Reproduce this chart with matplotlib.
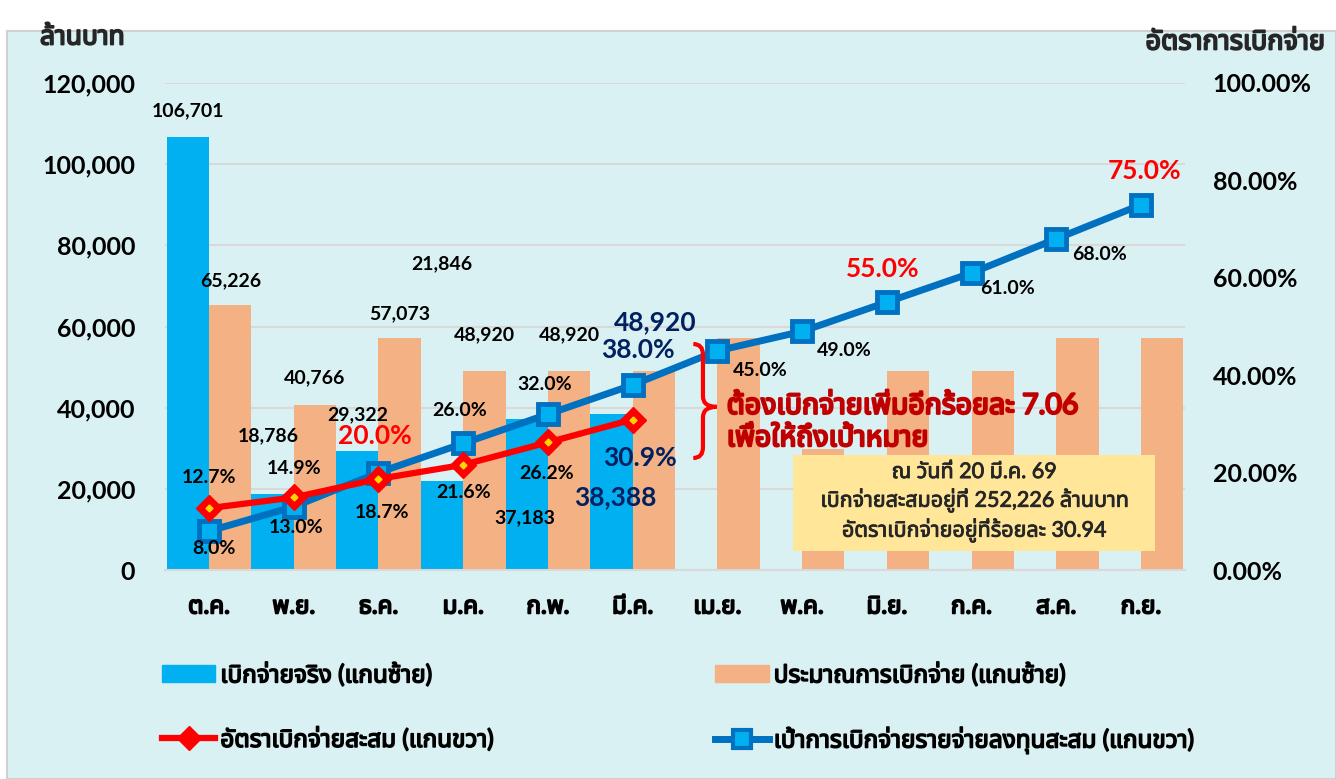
import matplotlib
matplotlib.use("Agg")
from matplotlib import pyplot as plt
from matplotlib import font_manager as fm
from matplotlib import patheffects as pe
from matplotlib.ft2font import FT2Font
from matplotlib.patches import Rectangle, Patch, PathPatch
from matplotlib.lines import Line2D
from matplotlib.path import Path
from matplotlib.ticker import FuncFormatter
import numpy as np

# find a font that has Thai glyphs
thai_fonts = []
for f in fm.fontManager.ttflist:
    try:
        cmap = FT2Font(f.fname).get_charmap()
    except Exception:
        continue
    if 0x0E01 in cmap and f.name not in thai_fonts:
        thai_fonts.append(f.name)
pref = ["Noto Sans Thai", "Noto Sans Thai UI", "Noto Sans Thai Looped", "Loma", "Garuda", "Waree", "Sawasdee"]
thai = next((p for p in pref if p in thai_fonts), thai_fonts[0] if thai_fonts else "DejaVu Sans")
FONTS = ["Lato", thai, "DejaVu Sans"]
plt.rcParams["font.family"] = FONTS

# data
months = ["ต.ค.", "พ.ย.", "ธ.ค.", "ม.ค.", "ก.พ.", "มี.ค.", "เม.ย.", "พ.ค.", "มิ.ย.", "ก.ค.", "ส.ค.", "ก.ย."]
actual = [106701, 18786, 29322, 21846, 37183, 38388]
budget = [65226, 40766, 57073, 48920, 48920, 48920, 57073, 29800, 48920, 48920, 57073, 57073]
target_rate = [8.0, 13.0, 20.0, 26.0, 32.0, 38.0, 45.0, 49.0, 55.0, 61.0, 68.0, 75.0]
actual_rate = [12.7, 14.9, 18.7, 21.6, 26.2, 30.9]
note_lines = ["ณ วันที่ 20 มี.ค. 69", "เบิกจ่ายสะสมอยู่ที่ 252,226 ล้านบาท", "อัตราเบิกจ่ายอยู่ที่ร้อยละ 30.94"]
gap_text = "ต้องเบิกจ่ายเพิ่มอีกร้อยละ 7.06\nเพื่อให้ถึงเป้าหมาย"

BLUE = "#00B0F0"
ORANGE = "#F4B183"
LINEBLUE = "#0070C0"
RED = "#FF0000"
NAVY = "#002060"


def bold(c, w=1.1):
    # thai font has no bold face, thicken with a stroke
    return [pe.withStroke(linewidth=w, foreground=c)]


# label offsets in pixels (dx, dy)
actual_off = [(0, 26), (-4, 58), (0, 36), (0, 218), (-2, -99), (4, -83)]
budget_off = [(0, 25), (0, 27), (0, 25), (0, 37), (0, 37), (1, 49)]
target_off = [(5, -17), (2, -21), (-4, 37), (-4, 33), (-3, 30), (5, 35),
              (43, -20), (42, -19), (-4, 33), (36, -16), (43, -16), (4, 34)]
target_col = ["black", "black", RED, "black", "black", NAVY,
              "black", "black", RED, "black", "black", RED]
rate_off = [(0, 31), (0, 29), (4, -34), (0, -28), (-1, -31), (7, -38)]

W, H = 1336, 779
fig = plt.figure(figsize=(W / 100, H / 100), dpi=100)
fig.patch.set_facecolor("white")
fig.patches.append(Rectangle((7 / W, 0), 1 - 7 / W, (H - 31) / H, transform=fig.transFigure,
                             fc="#DAF1F4", ec="#D0D0D0", lw=1.5, zorder=-10))

ax = fig.add_axes([165 / W, (H - 570) / H, (1185 - 165) / W, (570 - 83) / H])
ax.set_facecolor("none")
ax2 = ax.twinx()

x = np.arange(len(months))
xa = np.arange(len(actual))
ax.bar(xa - 0.25, actual, width=0.5, color=BLUE, zorder=2)
ax.bar(x + 0.25, budget, width=0.5, color=ORANGE, zorder=2)

ax.set_ylim(0, 120000)
ax.set_xlim(-0.52, 11.52)
ax.set_yticks(np.arange(0, 120001, 20000))
ax.yaxis.set_major_formatter(FuncFormatter(lambda v, p: f"{v:,.0f}"))
ax.grid(axis="y", color="#D9D9D9", lw=1.5, zorder=0)
ax.set_axisbelow(True)
ax.set_xticks(x)
ax.set_xticklabels(months)
for s in ["top", "left", "right"]:
    ax.spines[s].set_visible(False)
    ax2.spines[s].set_visible(False)
ax.spines["bottom"].set_color("#D9D9D9")
ax.spines["bottom"].set_linewidth(1.5)
ax2.spines["bottom"].set_visible(False)
ax.tick_params(axis="y", length=0, labelsize=18, pad=21.5)
ax.tick_params(axis="x", length=0, labelsize=17.5, pad=19)
for t in ax.get_yticklabels():
    t.set_fontweight("bold")
for t in ax.get_xticklabels():
    t.set_path_effects(bold("black", 1.3))

ax2.set_ylim(0, 100)
ax2.set_yticks(np.arange(0, 101, 20))
ax2.yaxis.set_major_formatter(FuncFormatter(lambda v, p: f"{v:.2f}%"))
ax2.tick_params(axis="y", length=0, labelsize=18, pad=20)
for t in ax2.get_yticklabels():
    t.set_fontweight("bold")

ax2.plot(x, target_rate, color=LINEBLUE, lw=5, marker="s", ms=15, mfc=BLUE, mec=LINEBLUE, mew=3.5, zorder=5)
ax2.plot(xa, actual_rate, color=RED, lw=4.5, marker="D", ms=13, mfc=RED, mec=RED, zorder=6)
ax2.plot(xa, actual_rate, ls="none", marker="D", ms=3.5, mfc="#FFD700", mec="#FFD700", zorder=7)

# bar labels
for i, v in enumerate(actual):
    big = i == len(actual) - 1
    ax2.annotate(f"{v:,}", xy=(i - 0.25, v / 1200), xytext=actual_off[i], textcoords="offset pixels",
                 ha="center", va="center", fontsize=19 if big else 14,
                 color=NAVY if big else "black", fontweight="bold", zorder=9)
for i, v in enumerate(budget[:len(actual)]):
    big = i == len(actual) - 1
    ax2.annotate(f"{v:,}", xy=(i + 0.25, v / 1200), xytext=budget_off[i], textcoords="offset pixels",
                 ha="center", va="center", fontsize=19 if big else 14,
                 color=NAVY if big else "black", fontweight="bold", zorder=9)

# line labels
for i, v in enumerate(target_rate):
    c = target_col[i]
    big = c != "black"
    ax2.annotate(f"{v:.1f}%", xy=(i, v), xytext=target_off[i], textcoords="offset pixels",
                 ha="center", va="center", fontsize=19 if big else 14, color=c,
                 fontweight="bold", zorder=9)
for i, v in enumerate(actual_rate):
    big = i == len(actual_rate) - 1
    ax2.annotate(f"{v:.1f}%", xy=(i, v), xytext=rate_off[i], textcoords="offset pixels",
                 ha="center", va="center", fontsize=19 if big else 14,
                 color=NAVY if big else "black", fontweight="bold", zorder=9)

# brace showing the gap
x0, x1, x2 = 5.716, 5.83, 5.99
yt, ym, yb = 46.4, 33.5, 23.0
r = 2.2
verts = [(x0, yt), (x1, yt), (x1, yt - r),
         (x1, ym + r), (x1, ym), (x2, ym),
         (x1, ym), (x1, ym - r),
         (x1, yb + r), (x1, yb), (x0, yb)]
codes = [Path.MOVETO, Path.CURVE3, Path.CURVE3,
         Path.LINETO, Path.CURVE3, Path.CURVE3,
         Path.CURVE3, Path.CURVE3,
         Path.LINETO, Path.CURVE3, Path.CURVE3]
ax2.add_patch(PathPatch(Path(verts, codes), fc="none", ec=RED, lw=3, zorder=8, clip_on=False))
ax2.text(6.11, 30.4, gap_text, ha="left", va="center", fontsize=20.5, color="#C00000",
         linespacing=1.3, zorder=9, path_effects=bold("#C00000", 1.6))

# note box
fig.patches.append(Rectangle((793 / W, (H - 551) / H), (1155 - 793) / W, (551 - 455) / H,
                             transform=fig.transFigure, fc="#FFE699", ec="none", zorder=3))
fig.text(974 / W, (H - 502) / H, "\n".join(note_lines), ha="center", va="center", fontsize=15.5,
         color="#262626", linespacing=1.3, zorder=10, path_effects=bold("#262626", 0.6))

# axis titles
fig.text(40 / W, (H - 37) / H, "ล้านบาท", ha="left", va="center", fontsize=19,
         path_effects=bold("#262626", 1.3), color="#262626")
fig.text(1325 / W, (H - 42) / H, "อัตราการเบิกจ่าย", ha="right", va="center", fontsize=19.5,
         path_effects=bold("#262626", 1.3), color="#262626")

handles = [Patch(color=BLUE),
           Line2D([], [], color=RED, lw=4.5, marker="D", ms=12, mfc=RED, mec=RED),
           Patch(color=ORANGE),
           Line2D([], [], color=LINEBLUE, lw=5, marker="s", ms=13, mfc=BLUE, mec=LINEBLUE, mew=3)]
labels = ["เบิกจ่ายจริง (แกนซ้าย)", "อัตราเบิกจ่ายสะสม (แกนขวา)",
          "ประมาณการเบิกจ่าย (แกนซ้าย)", "เป้าการเบิกจ่ายรายจ่ายลงทุนสะสม (แกนขวา)"]
leg = fig.legend(handles, labels, loc="upper left", bbox_to_anchor=(162 / W, (H - 662) / H), ncol=2,
                 frameon=False, fontsize=17.5, handlelength=2.2, handletextpad=0.2,
                 columnspacing=9.1, labelspacing=1.65, borderpad=0, borderaxespad=0)
for t in leg.get_texts():
    t.set_path_effects(bold("black", 1.1))

fig.savefig("out.png", dpi=100)
